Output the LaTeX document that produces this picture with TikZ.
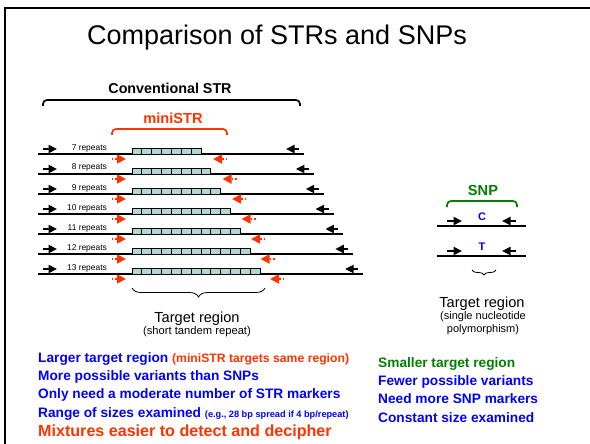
\documentclass[tikz,border=0pt]{standalone}
\usepackage{fontspec}
\setmainfont{Liberation Sans}
\usetikzlibrary{arrows.meta,decorations.pathreplacing}

\definecolor{strred}{RGB}{255,51,0}
\definecolor{snpgreen}{RGB}{0,128,0}
\definecolor{snpblue}{RGB}{0,0,255}
\definecolor{unitfill}{RGB}{176,214,214}

\tikzset{
  primer/.style={line width=2pt, -{Triangle[length=8.5pt,width=8pt]}},
  miniprimer/.style={strred, line width=1.8pt, dash pattern=on 1.4pt off 2pt, -{Triangle[length=9pt,width=9pt]}},
  unitbox/.style={draw=black, line width=0.8pt, fill=unitfill},
  strand/.style={line width=1.3pt},
  bracket/.style={line width=1.7pt, rounded corners=4pt},
}

\begin{document}
\begin{tikzpicture}[x=1pt, y=-1pt]
\useasboundingbox (0,0) rectangle (590,444);

% slide frame
\draw[line width=2.4pt] (5,446) -- (5,8) -- (592,8);

\node[anchor=base, inner sep=0, font=\fontsize{27}{32}\selectfont] (title) at (277,45) {Comparison of STRs and SNPs};

% STR side
\node[anchor=base, inner sep=0, font=\bfseries\fontsize{14.3}{17}\selectfont] (conv) at (170,94) {Conventional STR};
\draw[bracket] (43,106) -- (43,100) -- (300,100) -- (300,106);
\node[anchor=base, inner sep=0, text=strred, font=\bfseries\fontsize{14.6}{17}\selectfont] (mini) at (173,124) {miniSTR};
\draw[bracket, strred] (112,135) -- (112,129) -- (227,129) -- (227,135);

\foreach \n in {7,...,13} {
  \pgfmathsetmacro{\y}{154+20*(\n-7)}
  \pgfmathsetmacro{\xe}{304+9.85*(\n-7)}
  \pgfmathsetmacro{\xr}{213+9.5*(\n-7)}
  \node[anchor=base east, inner sep=0, font=\fontsize{8.4}{10}\selectfont] (rep\n) at (107,\y-4) {\n\ repeats};
  \draw[strand] (38,\y) -- (\xe,\y);
  \foreach \k in {1,...,\n}
    \draw[unitbox] ({132+9.85*(\k-1)},\y) rectangle +(9.85,-5.5);
  \draw[primer] (43,\y-5) -- (57,\y-5);
  \draw[primer] (\xe-5,\y-5) -- (\xe-18,\y-5);
  \draw[miniprimer] (112,\y+5) -- (126,\y+5);
  \draw[miniprimer] (\xr+14,\y+5) -- (\xr,\y+5);
}

\draw[line width=0.8pt, decorate, decoration={brace, amplitude=9pt}] (265,288) -- (132,288);
\node[anchor=base, inner sep=0, font=\fontsize{14.6}{17}\selectfont] (strtarget) at (197,322) {Target region};
\node[anchor=base, inner sep=0, font=\fontsize{11.2}{13}\selectfont] (strtype) at (197,334) {(short tandem repeat)};

% SNP side
\node[anchor=base, inner sep=0, text=snpgreen, font=\bfseries\fontsize{14.6}{17}\selectfont] (snp) at (483,196) {SNP};
\draw[bracket, snpgreen] (447,207) -- (447,201) -- (517,201) -- (517,207);
\draw[strand] (437,226) -- (526,226);
\draw[strand] (437,256) -- (526,256);
\draw[primer] (447,221) -- (462,221);
\draw[primer] (516,221) -- (502,221);
\draw[primer] (447,251) -- (462,251);
\draw[primer] (516,251) -- (502,251);
\node[anchor=base, inner sep=0, text=snpblue, font=\bfseries\fontsize{11}{13}\selectfont] (alleleC) at (482,220.5) {C};
\node[anchor=base, inner sep=0, text=snpblue, font=\bfseries\fontsize{11}{13}\selectfont] (alleleT) at (482,250) {T};
\draw[line width=0.8pt, decorate, decoration={brace, amplitude=5pt}] (496,270) -- (472,270);
\node[anchor=base, inner sep=0, font=\fontsize{14.6}{17}\selectfont] (snptarget) at (482,307) {Target region};
\node[anchor=base, inner sep=0, font=\fontsize{11}{13}\selectfont] (snptype) at (483,319.5) {(single nucleotide};
\node[anchor=base, inner sep=0, font=\fontsize{11}{13}\selectfont] (snptype2) at (483,332.5) {polymorphism)};

% lists of properties
\begin{scope}[every node/.style={anchor=base west, inner sep=0, font=\bfseries\fontsize{13.7}{16}\selectfont, text=snpblue}]
\node (strA) at (38,362) {Larger target region {\color{strred}\fontsize{12.2}{14}\selectfont(miniSTR targets same region)}};
\node (strB) at (38,380.3) {More possible variants than SNPs};
\node (strC) at (38,398.6) {Only need a moderate number of STR markers};
\node (strD) at (38,417) {Range of sizes examined {\fontsize{9.2}{11}\selectfont(e.g., 28 bp spread if 4 bp/repeat)}};
\node[text=strred, font=\bfseries\fontsize{16.1}{19}\selectfont] (strE) at (38,436) {Mixtures easier to detect and decipher};
\node[text=snpgreen] (snpA) at (378,367) {Smaller target region};
\node (snpB) at (378,385.3) {Fewer possible variants};
\node (snpC) at (378,403.6) {Need more SNP markers};
\node (snpD) at (378,422) {Constant size examined};
\end{scope}

\end{tikzpicture}
\end{document}
